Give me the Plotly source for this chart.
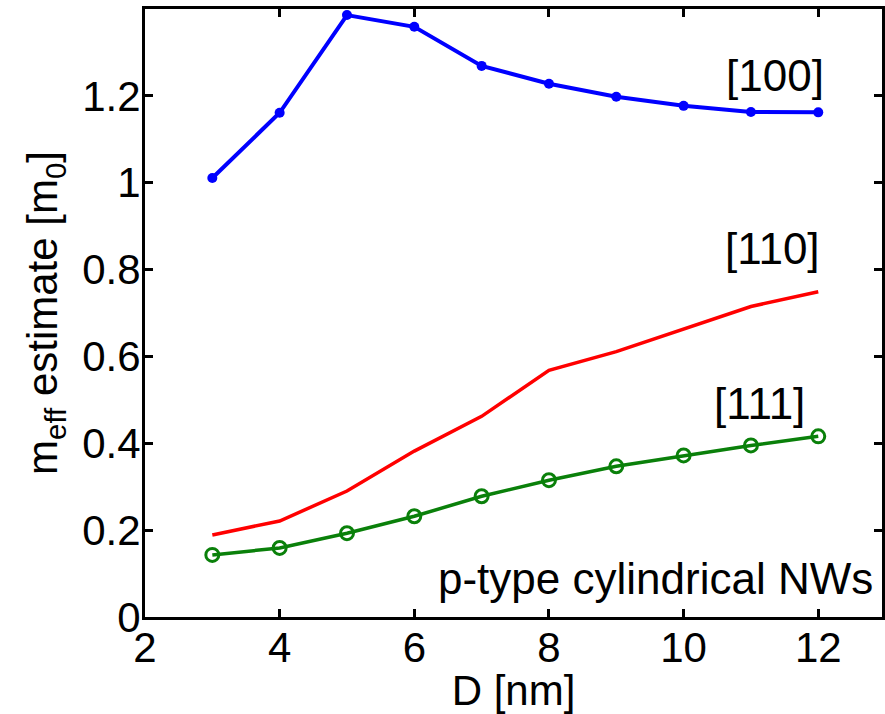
import plotly.graph_objects as go

D = [3, 4, 5, 6, 7, 8, 9, 10, 11, 12]
m100 = [1.011, 1.161, 1.386, 1.359, 1.269, 1.228, 1.198, 1.177, 1.163, 1.162]
m110 = [0.189, 0.221, 0.290, 0.382, 0.462, 0.568, 0.611, 0.662, 0.715, 0.749]
m111 = [0.143, 0.159, 0.193, 0.232, 0.278, 0.315, 0.347, 0.372, 0.395, 0.416]

xticks = [2, 4, 6, 8, 10, 12]
yticks = [0, 0.2, 0.4, 0.6, 0.8, 1.0, 1.2]
ytick_text = ["0", "0.2", "0.4", "0.6", "0.8", "1", "1.2"]
labels = ["[100]", "[110]", "[111]"]
note = "p-type cylindrical NWs"

FONT = "Liberation Sans, Arial, sans-serif"

fig = go.Figure()
fig.add_trace(go.Scatter(x=D, y=m100, mode="lines+markers", name="[100]",
                         line=dict(color="#0000FF", width=4),
                         marker=dict(symbol="circle", size=10, color="#0000FF")))
fig.add_trace(go.Scatter(x=D, y=m110, mode="lines", name="[110]",
                         line=dict(color="#FF0000", width=3.5)))
fig.add_trace(go.Scatter(x=D, y=m111, mode="lines+markers", name="[111]",
                         line=dict(color="#0A800A", width=3.5),
                         marker=dict(symbol="circle-open", size=13, color="#0A800A",
                                     line=dict(width=3, color="#0A800A"))))

ann_font = dict(family=FONT, size=44, color="black")
fig.add_annotation(x=11.35, y=1.248, text=labels[0], showarrow=False, font=ann_font)
fig.add_annotation(x=11.32, y=0.848, text=labels[1], showarrow=False, font=ann_font)
fig.add_annotation(x=11.13, y=0.492, text=labels[2], showarrow=False, font=ann_font)
fig.add_annotation(x=12.85, y=0.088, text=note, showarrow=False, xanchor="right",
                   font=ann_font)

fig.update_layout(
    width=885, height=714,
    margin=dict(l=145, r=0, t=9, b=97),
    paper_bgcolor="white", plot_bgcolor="white",
    showlegend=False,
    font=dict(family=FONT, color="black"),
)
fig.update_xaxes(
    range=[2, 2 + 740 / 67.6], tickvals=xticks, ticks="inside", ticklen=8, tickwidth=3,
    tickcolor="black", showline=True, linewidth=3, linecolor="black", mirror="ticks",
    showgrid=False, zeroline=False, tickfont=dict(size=42, family=FONT),
    ticklabelstandoff=-8,
    title=dict(text="D [nm]", font=dict(size=42, family=FONT), standoff=2),
)
fig.update_yaxes(
    range=[0, 1.4], tickvals=yticks, ticktext=ytick_text,
    ticks="inside", ticklen=8, tickwidth=3,
    tickcolor="black", showline=True, linewidth=3, linecolor="black", mirror="ticks",
    showgrid=False, zeroline=False, tickfont=dict(size=42, family=FONT),
    ticklabelstandoff=-7,
    title=dict(text="m<sub>eff</sub> estimate [m<sub>0</sub>]",
               font=dict(size=42, family=FONT), standoff=12),
)

fig.write_html("out.html",
               config={"displayModeBar": False},
               post_script="document.body.style.margin='0';document.body.style.overflow='hidden';")
